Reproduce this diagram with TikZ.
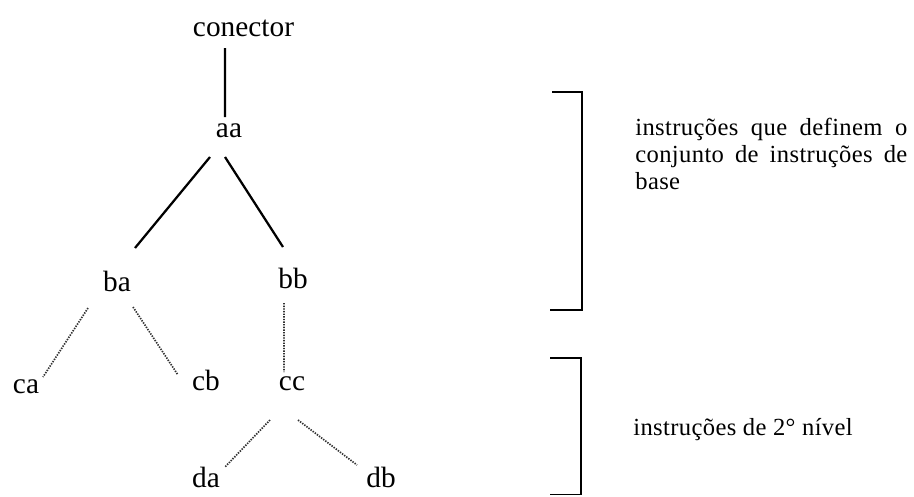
\documentclass[tikz,border=0pt]{standalone}
\usepackage{fontspec}
\setmainfont{Liberation Serif}
\newfontfamily\notefont[LetterSpace=1.5]{Liberation Serif}
\usetikzlibrary{calc,positioning}

\begin{document}
\begin{tikzpicture}[
    lbl/.style={inner sep=0pt, anchor=base, font=\fontsize{16.7}{20}\selectfont},
    note/.style={inner sep=0pt, font=\notefont\fontsize{14}{15.4}\selectfont},
    solidline/.style={line width=0.045cm},
    dotline/.style={line width=0.034cm, color=r50g50b50, dash pattern=on 0.8pt off 0.7pt},
    bracket/.style={line width=0.038cm}]
                    \useasboundingbox (0,0) rectangle (18.280000,9.920000);

                    % Changing color 50 50 50
                    \definecolor{r50g50b50}{rgb}{0.196078,0.196078,0.196078}%

                    % Placing the labels of the tree
                    \node [lbl] (conector) at (4.870000,9.180000) {conector};
                    \node [lbl] (aa) at (4.580000,7.180000) {aa};
                    \node [lbl] (ba) at (2.340000,4.100000) {ba};
                    \node [lbl] (bb) at (5.860000,4.160000) {bb};
                    \node [lbl] (ca) at (0.520000,2.060000) {ca};
                    \node [lbl] (cb) at (4.120000,2.120000) {cb};
                    \node [lbl] (cc) at (5.840000,2.120000) {cc};
                    \node [lbl] (da) at (4.120000,0.180000) {da};
                    \node [lbl] (db) at (7.620000,0.180000) {db};

                    % Drawing line conector aa
                    \draw [solidline] ([shift={(-0.370000,-0.220000)}]conector.base) -- ([shift={(-0.080000,0.400000)}]aa.base);%

                    % Drawing line aa ba
                    \draw [solidline] ([shift={(-0.380000,-0.400000)}]aa.base) -- ([shift={(0.360000,0.860000)}]ba.base);%

                    % Drawing line aa bb
                    \draw [solidline] ([shift={(-0.080000,-0.400000)}]aa.base) -- ([shift={(-0.200000,0.820000)}]bb.base);%

                    % Drawing dotted line ba ca
                    \draw [dotline] ([shift={(-0.580000,-0.340000)}]ba.base) -- ([shift={(0.340000,0.320000)}]ca.base);%

                    % Drawing dotted line ba cb
                    \draw [dotline] ([shift={(0.320000,-0.320000)}]ba.base) -- ([shift={(-0.560000,0.300000)}]cb.base);%

                    % Drawing dotted line bb cc
                    \draw [dotline] ([shift={(-0.180000,-0.300000)}]bb.base) -- ([shift={(-0.160000,0.360000)}]cc.base);%

                    % Drawing dotted line cc da
                    \draw [dotline] ([shift={(-0.440000,-0.600000)}]cc.base) -- ([shift={(0.380000,0.400000)}]da.base);%

                    % Drawing dotted line cc db
                    \draw [dotline] ([shift={(0.120000,-0.600000)}]cc.base) -- ([shift={(-0.480000,0.440000)}]db.base);%

                    % Drawing bracket of the base instructions
                    \draw [bracket] (11.040000,8.080000) -- (11.640000,8.080000) -- (11.640000,3.720000) -- (11.000000,3.720000);%

                    % Drawing bracket of the second level
                    \draw [bracket] (11.000000,2.760000) -- (11.620000,2.760000) -- (11.620000,0.030000) -- (11.000000,0.030000);%

                    % Writing the notes
                    \node [note, anchor=north west, text width=5.440000cm, align=justify] (defs) at (12.700000,7.560000)
                        {instruções que definem o\linebreak conjunto de instruções de\linebreak base};
                    \node [note, anchor=base west] (nivel) at (12.660000,1.220000) {instruções de 2° nível};
                    \end{tikzpicture}
\end{document}
